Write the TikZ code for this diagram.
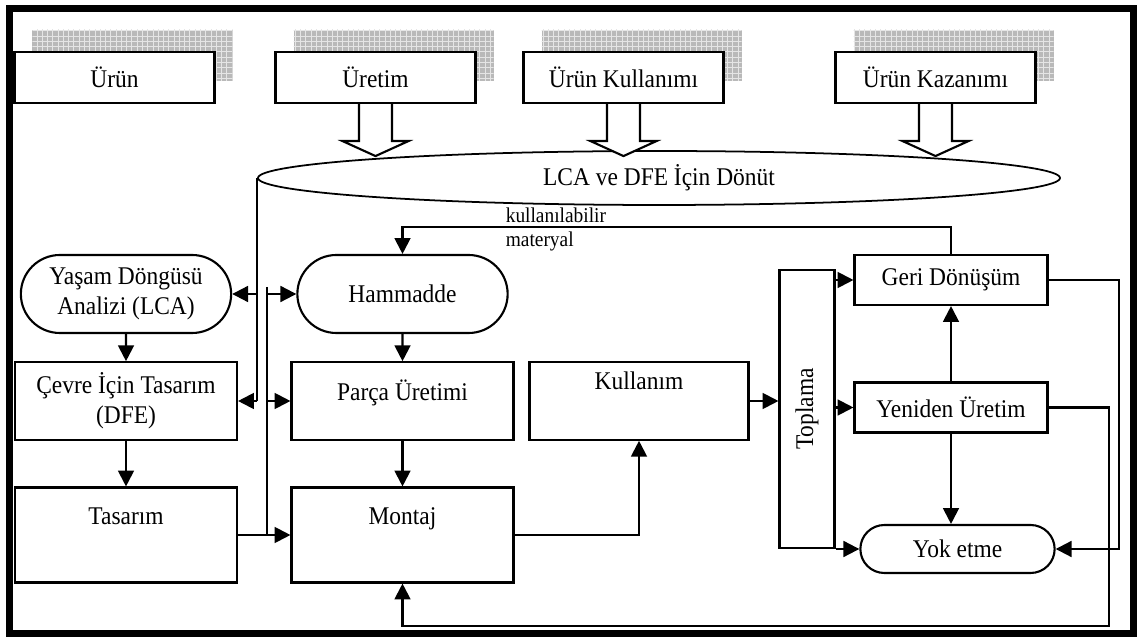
\documentclass[tikz,border=0pt]{standalone}
\usepackage{fontspec}
\setmainfont{Liberation Serif}[FakeStretch=0.92]
\usetikzlibrary{shapes.geometric, shapes.misc, arrows.meta, positioning, calc, shadows, patterns}
\tikzset{
  topbox/.style={
    rectangle, draw, line width=1.2pt, fill=white, minimum width=4cm, minimum height=1.02cm,
    general shadow={fill=gray!55, shadow xshift=0.36cm, shadow yshift=0.44cm},
    general shadow={pattern=grid, pattern color=gray!20, shadow xshift=0.36cm, shadow yshift=0.44cm} % bayangan kotak atas
  },
  feedback/.style={ellipse, draw, line width=1pt, minimum width=16.04cm, minimum height=1cm, fill=white},
  stage/.style={rounded rectangle, draw, line width=1.2pt, minimum width=4.44cm, minimum height=1.56cm, align=center},
  process/.style={rectangle, draw, line width=1.2pt, minimum width=4.44cm, minimum height=1.55cm, align=center},
  tallbox/.style={process, minimum height=1.9cm, text depth=0.74cm},
  collect/.style={rectangle, draw, line width=1.2pt, minimum width=1.1cm, minimum height=5.56cm},
  smallbox/.style={rectangle, draw, line width=1.2pt, minimum width=3.86cm, minimum height=1cm},
  smallstage/.style={rounded rectangle, draw, line width=1.2pt, minimum width=4.12cm, minimum height=0.96cm},
  hollow/.style={line width=1.2pt, fill=white},
  arrow/.style={line width=1.2pt, ->, >={Triangle[length=9pt, width=9pt]}},
  wire/.style={line width=1.2pt},
  frame/.style={line width=4pt},
  note/.style={font=\fontsize{12}{14}\selectfont, inner sep=2pt}
}

\begin{document}
\begin{tikzpicture}[node distance=2.14cm, font=\fontsize{14.5}{17}\selectfont]
    \useasboundingbox (0,0) rectangle (22.74,-12.74);
    \draw [frame] (0.19,-0.17) rectangle (22.68,-12.68);

    \node (urun) [topbox] at (2.29,-1.55) {Ürün};
    \node (uretim) [topbox] at (7.51,-1.55) {Üretim};
    \node (kullanimi) [topbox] at (12.47,-1.55) {Ürün Kullanımı};
    \node (kazanimi) [topbox] at (18.71,-1.55) {Ürün Kazanımı};

    \node (fb) [feedback] at (13.18,-3.56) {LCA ve DFE İçin Dönüt};

    \node (lca) [stage] at (2.52,-5.88) {Yaşam Döngüsü\\Analizi (LCA)};
    \node (dfe) [process, below of=lca] {Çevre İçin Tasarım\\(DFE)};
    \node (tasarim) [tallbox, below of=dfe, yshift=-.54cm] {Tasarım};

    \node (ham) [stage, right of=lca, xshift=3.39cm] {Hammadde};
    \node (parca) [process, below of=ham, text depth=.42cm] {Parça Üretimi};
    \node (montaj) [tallbox, below of=parca, yshift=-.54cm] {Montaj};

    \node (kullanim) [process, right of=parca, xshift=2.59cm, minimum width=4.38cm, text depth=.82cm] {Kullanım};
    \node (toplama) [collect, right of=kullanim, xshift=1.22cm, yshift=-.16cm] {\rotatebox{90}{Toplama}};

    \node (geri) [smallbox] at (19.02,-5.60) {Geri Dönüşüm};
    \node (yeniden) [smallbox, below of=geri, yshift=-.41cm] {Yeniden Üretim};
    \node (yok) [smallstage, below of=yeniden, xshift=.13cm, yshift=-.69cm] {Yok etme};

    \foreach \n in {uretim,kullanimi,kazanimi}
      \draw [hollow] (\n.south) ++(-0.33,0) -- ++(0,-0.74) -- ++(-0.33,0) -- ++(0.66,-0.3)
                     -- ++(0.66,0.3) -- ++(-0.33,0) -- ++(0,0.74);

    \coordinate (bus) at ($(fb.west)+(0.2,0)$);
    \draw [wire] (fb.west) -- (fb.west |- dfe.east);
    \draw [arrow] (fb.west |- lca.east) -- (lca.east);
    \draw [arrow] (fb.west |- dfe.east) -- (dfe.east);
    \draw [wire] ($(bus |- ham.west)+(0,0.14)$) -- (bus |- tasarim.east);
    \draw [arrow] (bus |- ham.west) -- (ham.west);
    \draw [arrow] (bus |- parca.west) -- (parca.west);
    \draw [arrow] (tasarim.east) -- (montaj.west);

    \draw [arrow] (lca) -- (dfe);
    \draw [arrow] (dfe) -- (tasarim);
    \draw [arrow] (ham) -- (parca);
    \draw [arrow] (parca) -- (montaj);
    \draw [arrow] (montaj.east) -| (kullanim.south);
    \draw [arrow] (kullanim.east) -- (kullanim.east -| toplama.west);
    \foreach \n in {geri,yeniden,yok}
      \draw [arrow] (toplama.east |- \n.west) -- (\n.west);
    \draw [arrow] (yeniden.north) -- (yeniden.north |- geri.south);
    \draw [arrow] (yeniden.south) -- (yeniden.south |- yok.north);

    \draw [arrow] (geri.north) -- ++(0,0.54) -| node[pos=0.41, note, anchor=south west] {kullanılabilir}
                  node[pos=0.41, note, anchor=north west] {materyal} (ham.north);
    \draw [arrow] (geri.east) -- ++(1.4,0) |- (yok.east);
    \draw [arrow] (yeniden.east) -- ++(1.2,0) -- ++(0,-4.37) -| (montaj.south);

\end{tikzpicture}
\end{document}
